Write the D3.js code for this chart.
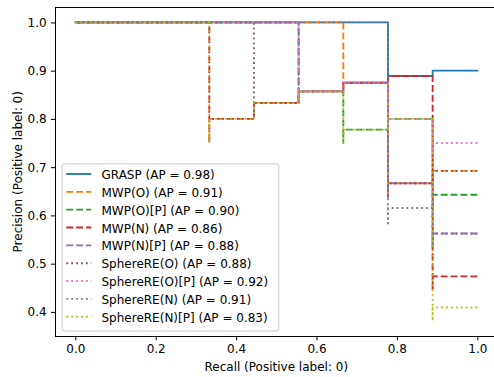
<!DOCTYPE html>
<html>
<head>
<meta charset="utf-8">
<script src="https://cdn.jsdelivr.net/npm/d3@7"></script>
<style>
  html, body { margin: 0; padding: 0; background: #fff; }
  svg text { font-family: "DejaVu Sans", sans-serif; }
</style>
</head>
<body>
<div id="chart"></div>
<script>
// ---- Data: precision-recall points (recall, precision), ordered by decreasing recall ----
const grasp = [[1,0.9],[0.8889,0.8889],[0.7778,0.875],[0.7778,1],[0.6667,1],[0.5556,1],[0.4444,1],[0.3333,1],[0.2222,1],[0.1111,1],[0,1]];
const mwpO = [[1,0.6923],[0.8889,0.6667],[0.7778,0.6364],[0.7778,0.7],[0.7778,0.7778],[0.7778,0.875],[0.6667,0.8571],[0.6667,1],[0.5556,1],[0.4444,1],[0.3333,1],[0.2222,1],[0.1111,1],[0,1]];
const mwpOP = [[1,0.6429],[0.8889,0.6154],[0.8889,0.6667],[0.8889,0.7273],[0.8889,0.8],[0.7778,0.7778],[0.6667,0.75],[0.6667,0.8571],[0.5556,0.8333],[0.5556,1],[0.4444,1],[0.3333,1],[0.2222,1],[0.1111,1],[0,1]];
const mwpN = [[1,0.4737],[0.8889,0.4444],[0.8889,0.4706],[0.8889,0.5],[0.8889,0.5333],[0.8889,0.5714],[0.8889,0.6154],[0.8889,0.6667],[0.8889,0.7273],[0.8889,0.8],[0.8889,0.8889],[0.7778,0.875],[0.6667,0.8571],[0.5556,0.8333],[0.4444,0.8],[0.3333,0.75],[0.3333,1],[0.2222,1],[0.1111,1],[0,1]];
const mwpNP = [[1,0.5625],[0.8889,0.5333],[0.8889,0.5714],[0.8889,0.6154],[0.8889,0.6667],[0.7778,0.6364],[0.7778,0.7],[0.7778,0.7778],[0.7778,0.875],[0.6667,0.8571],[0.5556,0.8333],[0.5556,1],[0.4444,1],[0.3333,1],[0.2222,1],[0.1111,1],[0,1]];
const sphereO = [[1,0.6923],[0.8889,0.6667],[0.7778,0.6364],[0.7778,0.7],[0.7778,0.7778],[0.7778,0.875],[0.6667,0.8571],[0.5556,0.8333],[0.4444,0.8],[0.4444,1],[0.3333,1],[0.2222,1],[0.1111,1],[0,1]];
const sphereOP = [[1,0.75],[0.8889,0.7273],[0.8889,0.8],[0.7778,0.7778],[0.7778,0.875],[0.6667,0.8571],[0.5556,0.8333],[0.5556,1],[0.4444,1],[0.3333,1],[0.2222,1],[0.1111,1],[0,1]];
const sphereN = [[1,0.5625],[0.8889,0.5333],[0.8889,0.5714],[0.8889,0.6154],[0.7778,0.5833],[0.7778,0.6364],[0.7778,0.7],[0.7778,0.7778],[0.7778,0.875],[0.7778,1],[0.6667,1],[0.5556,1],[0.4444,1],[0.3333,1],[0.2222,1],[0.1111,1],[0,1]];
const sphereNP = [[1,0.4091],[0.8889,0.381],[0.8889,0.4],[0.8889,0.4211],[0.8889,0.4444],[0.8889,0.4706],[0.8889,0.5],[0.8889,0.5333],[0.8889,0.5714],[0.8889,0.6154],[0.8889,0.6667],[0.8889,0.7273],[0.8889,0.8],[0.7778,0.7778],[0.6667,0.75],[0.6667,0.8571],[0.5556,0.8333],[0.4444,0.8],[0.3333,0.75],[0.3333,1],[0.2222,1],[0.1111,1],[0,1]];

const seriesNames = ["GRASP","MWP(O)","MWP(O)[P]","MWP(N)","MWP(N)[P]","SphereRE(O)","SphereRE(O)[P]","SphereRE(N)","SphereRE(N)[P]"];
const apValues = [0.98, 0.91, 0.90, 0.86, 0.88, 0.88, 0.92, 0.91, 0.83];
const xTicks = [0.0, 0.2, 0.4, 0.6, 0.8, 1.0];
const yTicks = [0.4, 0.5, 0.6, 0.7, 0.8, 0.9, 1.0];
const xLabel = "Recall (Positive label: 0)";
const yLabel = "Precision (Positive label: 0)";

// ---- Styles ----
const seriesData = [grasp, mwpO, mwpOP, mwpN, mwpNP, sphereO, sphereOP, sphereN, sphereNP];
const colors = ["#1f77b4","#ff7f0e","#2ca02c","#d62728","#9467bd","#8c564b","#e377c2","#7f7f7f","#bcbd22"];
const dashes = [null,"6.9,3","6.9,3","6.9,3","6.9,3","1.85,3.06","1.85,3.06","1.85,3.06","1.85,3.06"];

const W = 494, H = 377;
const fs = 12;
const plot = {left: 55.2, right: 497.4, top: 7.5, bottom: 336};

const svg = d3.select("#chart").append("svg")
  .attr("width", W).attr("height", H)
  .attr("viewBox", `0 0 ${W} ${H}`);

// matplotlib-like autoscale with 5% margins
const allP = seriesData.flat().map(d => d[1]);
const yMin = d3.min(allP), yMax = d3.max(allP);
const yPad = (yMax - yMin) * 0.05;

const x = d3.scaleLinear().domain([-0.05, 1.05]).range([plot.left, plot.right]);
const y = d3.scaleLinear().domain([yMin - yPad, yMax + yPad]).range([plot.bottom, plot.top]);

const line = d3.line().x(d => x(d[0])).y(d => y(d[1])).curve(d3.curveStepAfter);

const g = svg.append("g");
seriesData.forEach((data, i) => {
  g.append("path")
    .datum(data)
    .attr("d", line)
    .attr("fill", "none")
    .attr("stroke", colors[i])
    .attr("stroke-width", 1.85)
    .attr("stroke-dasharray", dashes[i])
    .attr("stroke-linejoin", "round")
    .attr("stroke-linecap", dashes[i] ? "butt" : "square");
});

// Spines
svg.append("line").attr("x1", plot.left).attr("x2", plot.left).attr("y1", plot.top).attr("y2", plot.bottom)
  .attr("stroke", "#000").attr("stroke-width", 1).attr("shape-rendering", "crispEdges");
svg.append("line").attr("x1", plot.left).attr("x2", plot.right).attr("y1", plot.bottom).attr("y2", plot.bottom)
  .attr("stroke", "#000").attr("stroke-width", 1).attr("shape-rendering", "crispEdges");
svg.append("line").attr("x1", plot.left).attr("x2", plot.right).attr("y1", plot.top).attr("y2", plot.top)
  .attr("stroke", "#000").attr("stroke-width", 1).attr("shape-rendering", "crispEdges");
svg.append("line").attr("x1", plot.right).attr("x2", plot.right).attr("y1", plot.top).attr("y2", plot.bottom)
  .attr("stroke", "#000").attr("stroke-width", 1).attr("shape-rendering", "crispEdges");

// Axes
const xAxis = d3.axisBottom(x).tickValues(xTicks).tickFormat(d3.format(".1f")).tickSize(4.3).tickPadding(4.3);
const yAxis = d3.axisLeft(y).tickValues(yTicks).tickFormat(d3.format(".1f")).tickSize(4.3).tickPadding(4.3);

const gx = svg.append("g").attr("transform", `translate(0,${plot.bottom})`).call(xAxis);
const gy = svg.append("g").attr("transform", `translate(${plot.left},0)`).call(yAxis);
[gx, gy].forEach(a => {
  a.select(".domain").remove();
  a.selectAll(".tick line").attr("stroke", "#000").attr("stroke-width", 1);
  a.selectAll(".tick text").attr("fill", "#000").attr("font-size", fs)
    .attr("font-family", "DejaVu Sans");
});

// Axis labels
svg.append("text").attr("x", (plot.left + plot.right) / 2).attr("y", 370.5)
  .attr("text-anchor", "middle").attr("font-size", fs).attr("fill", "#000").text(xLabel);
svg.append("text").attr("transform", `translate(21.5,${(plot.top + plot.bottom) / 2}) rotate(-90)`)
  .attr("text-anchor", "middle").attr("font-size", fs).attr("fill", "#000").text(yLabel);

// Legend
const legX = 61.6, legY = 163.3, legW = 216.7, legH = 167.2;
const leg = svg.append("g");
leg.append("rect").attr("x", legX + 0.5).attr("y", legY + 0.5).attr("width", legW).attr("height", legH)
  .attr("rx", 2.5).attr("ry", 2.5)
  .attr("fill", "#fff").attr("fill-opacity", 0.8)
  .attr("stroke", "#cccccc").attr("stroke-width", 1);
const rowH = 17.84, row0 = 174;
seriesNames.forEach((name, i) => {
  const cy = row0 + i * rowH;
  leg.append("line").attr("x1", 66.3).attr("x2", 91.3).attr("y1", cy).attr("y2", cy)
    .attr("stroke", colors[i]).attr("stroke-width", 1.85)
    .attr("stroke-dasharray", dashes[i]);
  leg.append("text").attr("x", 101.5).attr("y", cy + 5)
    .attr("font-size", fs).attr("fill", "#000")
    .text(`${name} (AP = ${apValues[i].toFixed(2)})`);
});
</script>
</body>
</html>
